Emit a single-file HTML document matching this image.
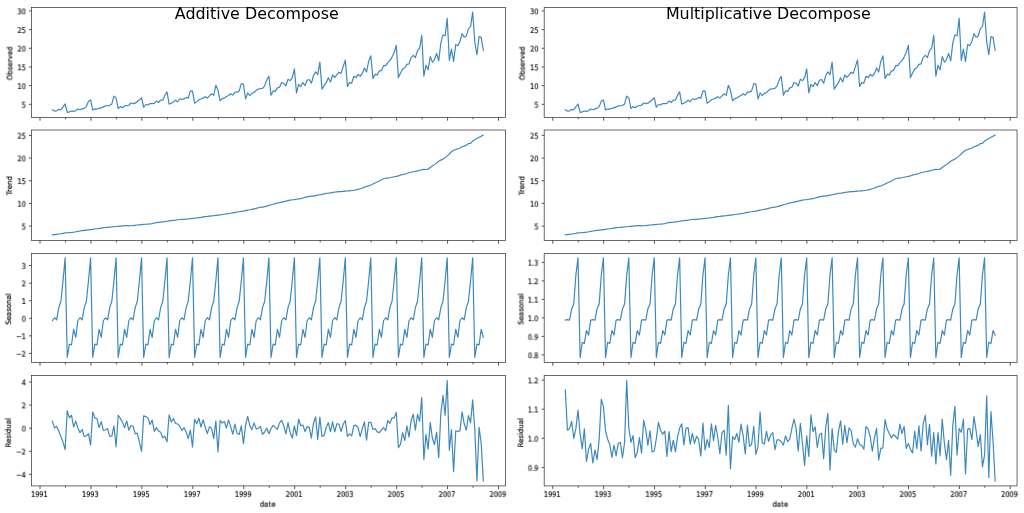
<!DOCTYPE html>
<html lang="en"><head><meta charset="utf-8"><title>Additive and Multiplicative Decompose</title>
<style>html,body{margin:0;padding:0;background:#fff;overflow:hidden}body{width:1024px;height:513px}svg text{will-change:transform}</style>
</head><body>
<svg width="1024" height="513" viewBox="0 0 1024 513" style="display:block" font-family="'DejaVu Sans', 'Liberation Sans', sans-serif">
<rect width="1024" height="513" fill="#fff"/>
<g id="panel-add">
<polyline points="52.40,109.82 54.52,111.12 56.64,110.85 58.76,109.51 60.89,109.68 63.01,106.91 65.13,103.99 67.25,112.48 69.38,111.84 71.50,111.03 73.62,111.31 75.75,110.78 77.87,109.03 79.99,109.70 82.11,108.89 84.24,108.34 86.36,106.61 88.48,101.29 90.60,99.87 92.73,110.11 94.85,108.91 96.97,109.05 99.09,108.41 101.22,107.87 103.34,106.88 105.46,105.95 107.59,105.78 109.71,105.56 111.83,103.97 113.95,96.17 116.08,97.85 118.20,108.65 120.32,106.58 122.44,107.77 124.57,106.04 126.69,105.64 128.81,105.24 130.94,103.01 133.06,103.55 135.18,103.19 137.30,101.43 139.43,99.82 141.55,97.78 143.67,107.25 145.79,104.51 147.92,104.98 150.04,103.59 152.16,103.68 154.29,103.36 156.41,101.12 158.53,102.49 160.65,100.15 162.78,100.25 164.90,95.29 167.02,91.88 169.14,104.06 171.27,103.34 173.39,102.09 175.51,100.17 177.64,101.74 179.76,98.76 181.88,99.46 184.00,98.84 186.13,97.49 188.25,98.16 190.37,90.84 192.49,91.15 194.62,103.28 196.74,101.65 198.86,99.78 200.98,99.04 203.11,98.09 205.23,96.66 207.35,97.95 209.48,95.91 211.60,93.78 213.72,95.36 215.84,85.28 217.97,90.13 220.09,100.89 222.21,98.59 224.33,98.06 226.46,96.61 228.58,95.41 230.70,93.81 232.83,95.23 234.95,92.08 237.07,92.14 239.19,90.88 241.32,83.55 243.44,84.18 245.56,99.01 247.68,92.88 249.81,95.73 251.93,93.35 254.05,92.49 256.18,90.43 258.30,89.11 260.42,88.71 262.54,88.43 264.67,85.89 266.79,79.91 268.91,76.26 271.03,95.14 273.16,90.90 275.28,91.34 277.40,87.93 279.52,87.28 281.65,82.52 283.77,83.23 285.89,85.98 288.02,79.25 290.14,80.63 292.26,77.87 294.38,68.83 296.51,92.93 298.63,84.47 300.75,86.56 302.87,82.46 305.00,85.78 307.12,80.24 309.24,79.44 311.37,83.22 313.49,75.73 315.61,71.91 317.73,74.56 319.86,62.10 321.98,89.17 324.10,85.63 326.22,82.69 328.35,77.77 330.47,82.07 332.59,75.01 334.72,77.43 336.84,74.97 338.96,72.40 341.08,73.36 343.21,66.45 345.33,60.13 347.45,86.38 349.57,82.59 351.70,83.19 353.82,76.25 355.94,77.56 358.06,74.44 360.19,76.23 362.31,73.43 364.43,67.95 366.56,71.93 368.68,61.34 370.80,55.74 372.92,78.40 375.05,74.44 377.17,74.87 379.29,70.90 381.41,70.73 383.54,65.69 385.66,65.57 387.78,62.69 389.91,60.66 392.03,57.11 394.15,52.50 396.27,45.37 398.40,77.59 400.52,72.93 402.64,68.98 404.76,67.72 406.89,64.32 409.01,63.86 411.13,57.41 413.26,55.37 415.38,57.63 417.50,50.72 419.62,48.16 421.75,35.25 423.87,76.16 425.99,65.21 428.11,69.82 430.24,56.56 432.36,62.13 434.48,59.56 436.61,53.46 438.73,60.89 440.85,42.93 442.97,34.92 445.10,35.82 447.22,18.24 449.34,60.37 451.46,49.05 453.59,61.62 455.71,44.54 457.83,45.73 459.95,41.42 462.08,33.59 464.20,37.33 466.32,36.08 468.45,28.66 470.57,26.58 472.69,12.17 474.81,42.10 476.94,54.76 479.06,36.67 481.18,37.40 483.30,50.40" fill="none" stroke="#1f77b4" stroke-opacity="0.88" stroke-width="1.18" stroke-linejoin="round" stroke-linecap="square"/>
<rect x="31.50" y="7.50" width="474.00" height="110.00" fill="none" stroke="#404040" stroke-width="0.78"/>
<path d="M31.50 104.32h-2.5 M31.50 85.64h-2.5 M31.50 66.96h-2.5 M31.50 48.28h-2.5 M31.50 29.60h-2.5 M31.50 10.92h-2.5 M40.01 117.50v3.2 M65.48 117.50v1.8 M90.95 117.50v3.2 M116.43 117.50v1.8 M141.90 117.50v3.2 M167.37 117.50v1.8 M192.84 117.50v3.2 M218.32 117.50v1.8 M243.79 117.50v3.2 M269.26 117.50v1.8 M294.73 117.50v3.2 M320.21 117.50v1.8 M345.68 117.50v3.2 M371.15 117.50v1.8 M396.62 117.50v3.2 M422.10 117.50v1.8 M447.57 117.50v3.2 M473.04 117.50v1.8 M498.51 117.50v3.2" stroke="#2a2a2a" stroke-width="0.8" fill="none"/>
<g fill="#0a0a0a" stroke="#0a0a0a" stroke-width="0.17">
<text transform="translate(25.80 107.65) rotate(0.02) scale(0.85 1)" font-size="7.75" text-anchor="end">5</text>
<text transform="translate(25.80 88.97) rotate(0.02) scale(0.85 1)" font-size="7.75" text-anchor="end">10</text>
<text transform="translate(25.80 70.29) rotate(0.02) scale(0.85 1)" font-size="7.75" text-anchor="end">15</text>
<text transform="translate(25.80 51.61) rotate(0.02) scale(0.85 1)" font-size="7.75" text-anchor="end">20</text>
<text transform="translate(25.80 32.93) rotate(0.02) scale(0.85 1)" font-size="7.75" text-anchor="end">25</text>
<text transform="translate(25.80 14.25) rotate(0.02) scale(0.85 1)" font-size="7.75" text-anchor="end">30</text>
<text transform="translate(12.30 63.35) rotate(-90) scale(0.95 1)" font-size="7.35" text-anchor="middle" stroke-width="0.18">Observed</text>
</g>
<polyline points="52.40,234.90 54.52,234.61 56.64,234.32 58.76,234.02 60.89,233.73 63.01,233.44 65.13,232.89 67.25,232.78 69.38,232.61 71.50,232.45 73.62,232.24 75.75,231.80 77.87,231.31 79.99,230.98 82.11,230.71 84.24,230.46 86.36,230.21 88.48,229.92 90.60,229.66 92.73,229.36 94.85,229.02 96.97,228.72 99.09,228.44 101.22,228.05 103.34,227.69 105.46,227.51 107.59,227.32 109.71,227.14 111.83,226.96 113.95,226.72 116.08,226.53 118.20,226.30 120.32,226.04 122.44,225.80 124.57,225.55 126.69,225.61 128.81,225.79 130.94,225.72 133.06,225.54 135.18,225.30 137.30,225.03 139.43,224.81 141.55,224.61 143.67,224.42 145.79,224.27 147.92,224.06 150.04,223.85 152.16,223.56 154.29,223.03 156.41,222.57 158.53,222.35 160.65,222.15 162.78,221.83 164.90,221.56 167.02,221.23 169.14,220.91 171.27,220.64 173.39,220.32 175.51,220.08 177.64,219.75 179.76,219.49 181.88,219.41 184.00,219.29 186.13,219.09 188.25,218.91 190.37,218.67 192.49,218.38 194.62,218.20 196.74,217.97 198.86,217.64 200.98,217.31 203.11,216.88 205.23,216.55 207.35,216.38 209.48,216.10 211.60,215.86 213.72,215.65 215.84,215.39 217.97,215.11 220.09,214.83 222.21,214.50 224.33,214.22 226.46,213.91 228.58,213.60 230.70,213.21 232.83,212.81 234.95,212.43 237.07,212.02 239.19,211.74 241.32,211.43 243.44,211.11 245.56,210.63 247.68,210.15 249.81,209.79 251.93,209.35 254.05,208.91 256.18,208.33 258.30,207.73 260.42,207.43 262.54,207.11 264.67,206.62 266.79,206.08 268.91,205.41 271.03,204.72 273.16,204.28 275.28,203.68 277.40,202.95 279.52,202.58 281.65,202.10 283.77,201.61 285.89,201.17 288.02,200.61 290.14,200.09 292.26,199.74 294.38,199.55 296.51,199.24 298.63,198.91 300.75,198.59 302.87,197.97 305.00,197.36 307.12,196.85 309.24,196.32 311.37,196.19 313.49,196.05 315.61,195.62 317.73,195.20 319.86,194.74 321.98,194.38 324.10,193.86 326.22,193.27 328.35,193.18 330.47,192.84 332.59,192.33 334.72,192.09 336.84,191.79 338.96,191.67 341.08,191.61 343.21,191.31 345.33,191.05 347.45,190.96 349.57,190.82 351.70,190.52 353.82,190.22 355.94,189.89 358.06,189.41 360.19,188.78 362.31,187.97 364.43,187.13 366.56,186.44 368.68,185.83 370.80,185.04 372.92,184.06 375.05,182.97 377.17,182.06 379.29,180.94 381.41,179.75 383.54,178.77 385.66,178.21 387.78,178.09 389.91,177.72 392.03,177.26 394.15,176.77 396.27,176.35 398.40,175.85 400.52,175.07 402.64,174.54 404.76,174.07 406.89,173.52 409.01,172.79 411.13,172.21 413.26,171.74 415.38,171.40 417.50,170.87 419.62,170.20 421.75,169.87 423.87,169.45 425.99,169.53 428.11,169.07 430.24,167.53 432.36,166.10 434.48,164.62 436.61,162.96 438.73,161.34 440.85,160.11 442.97,159.09 445.10,157.65 447.22,155.90 449.34,153.98 451.46,151.78 453.59,150.24 455.71,149.58 457.83,148.79 459.95,148.02 462.08,146.79 464.20,146.15 466.32,145.18 468.45,143.55 470.57,143.43 472.69,140.92 474.81,139.73 476.94,138.55 479.06,137.36 481.18,136.18 483.30,135.00" fill="none" stroke="#1f77b4" stroke-opacity="0.88" stroke-width="1.18" stroke-linejoin="round" stroke-linecap="square"/>
<rect x="31.50" y="130.00" width="474.00" height="110.50" fill="none" stroke="#404040" stroke-width="0.78"/>
<path d="M31.50 226.10h-2.5 M31.50 203.42h-2.5 M31.50 180.73h-2.5 M31.50 158.05h-2.5 M31.50 135.37h-2.5 M40.01 240.50v3.2 M65.48 240.50v1.8 M90.95 240.50v3.2 M116.43 240.50v1.8 M141.90 240.50v3.2 M167.37 240.50v1.8 M192.84 240.50v3.2 M218.32 240.50v1.8 M243.79 240.50v3.2 M269.26 240.50v1.8 M294.73 240.50v3.2 M320.21 240.50v1.8 M345.68 240.50v3.2 M371.15 240.50v1.8 M396.62 240.50v3.2 M422.10 240.50v1.8 M447.57 240.50v3.2 M473.04 240.50v1.8 M498.51 240.50v3.2" stroke="#2a2a2a" stroke-width="0.8" fill="none"/>
<g fill="#0a0a0a" stroke="#0a0a0a" stroke-width="0.17">
<text transform="translate(25.80 229.44) rotate(0.02) scale(0.85 1)" font-size="7.75" text-anchor="end">5</text>
<text transform="translate(25.80 206.75) rotate(0.02) scale(0.85 1)" font-size="7.75" text-anchor="end">10</text>
<text transform="translate(25.80 184.07) rotate(0.02) scale(0.85 1)" font-size="7.75" text-anchor="end">15</text>
<text transform="translate(25.80 161.38) rotate(0.02) scale(0.85 1)" font-size="7.75" text-anchor="end">20</text>
<text transform="translate(25.80 138.70) rotate(0.02) scale(0.85 1)" font-size="7.75" text-anchor="end">25</text>
<text transform="translate(11.90 185.65) rotate(-90) scale(0.95 1)" font-size="7.35" text-anchor="middle" stroke-width="0.18">Trend</text>
</g>
<polyline points="52.40,320.74 54.52,317.78 56.64,319.86 58.76,307.67 60.89,301.20 63.01,280.92 65.13,257.83 67.25,357.52 69.38,344.11 71.50,344.96 73.62,329.25 75.75,337.38 77.87,320.74 79.99,317.78 82.11,319.86 84.24,307.67 86.36,301.20 88.48,280.92 90.60,257.83 92.73,357.52 94.85,344.11 96.97,344.96 99.09,329.25 101.22,337.38 103.34,320.74 105.46,317.78 107.59,319.86 109.71,307.67 111.83,301.20 113.95,280.92 116.08,257.83 118.20,357.52 120.32,344.11 122.44,344.96 124.57,329.25 126.69,337.38 128.81,320.74 130.94,317.78 133.06,319.86 135.18,307.67 137.30,301.20 139.43,280.92 141.55,257.83 143.67,357.52 145.79,344.11 147.92,344.96 150.04,329.25 152.16,337.38 154.29,320.74 156.41,317.78 158.53,319.86 160.65,307.67 162.78,301.20 164.90,280.92 167.02,257.83 169.14,357.52 171.27,344.11 173.39,344.96 175.51,329.25 177.64,337.38 179.76,320.74 181.88,317.78 184.00,319.86 186.13,307.67 188.25,301.20 190.37,280.92 192.49,257.83 194.62,357.52 196.74,344.11 198.86,344.96 200.98,329.25 203.11,337.38 205.23,320.74 207.35,317.78 209.48,319.86 211.60,307.67 213.72,301.20 215.84,280.92 217.97,257.83 220.09,357.52 222.21,344.11 224.33,344.96 226.46,329.25 228.58,337.38 230.70,320.74 232.83,317.78 234.95,319.86 237.07,307.67 239.19,301.20 241.32,280.92 243.44,257.83 245.56,357.52 247.68,344.11 249.81,344.96 251.93,329.25 254.05,337.38 256.18,320.74 258.30,317.78 260.42,319.86 262.54,307.67 264.67,301.20 266.79,280.92 268.91,257.83 271.03,357.52 273.16,344.11 275.28,344.96 277.40,329.25 279.52,337.38 281.65,320.74 283.77,317.78 285.89,319.86 288.02,307.67 290.14,301.20 292.26,280.92 294.38,257.83 296.51,357.52 298.63,344.11 300.75,344.96 302.87,329.25 305.00,337.38 307.12,320.74 309.24,317.78 311.37,319.86 313.49,307.67 315.61,301.20 317.73,280.92 319.86,257.83 321.98,357.52 324.10,344.11 326.22,344.96 328.35,329.25 330.47,337.38 332.59,320.74 334.72,317.78 336.84,319.86 338.96,307.67 341.08,301.20 343.21,280.92 345.33,257.83 347.45,357.52 349.57,344.11 351.70,344.96 353.82,329.25 355.94,337.38 358.06,320.74 360.19,317.78 362.31,319.86 364.43,307.67 366.56,301.20 368.68,280.92 370.80,257.83 372.92,357.52 375.05,344.11 377.17,344.96 379.29,329.25 381.41,337.38 383.54,320.74 385.66,317.78 387.78,319.86 389.91,307.67 392.03,301.20 394.15,280.92 396.27,257.83 398.40,357.52 400.52,344.11 402.64,344.96 404.76,329.25 406.89,337.38 409.01,320.74 411.13,317.78 413.26,319.86 415.38,307.67 417.50,301.20 419.62,280.92 421.75,257.83 423.87,357.52 425.99,344.11 428.11,344.96 430.24,329.25 432.36,337.38 434.48,320.74 436.61,317.78 438.73,319.86 440.85,307.67 442.97,301.20 445.10,280.92 447.22,257.83 449.34,357.52 451.46,344.11 453.59,344.96 455.71,329.25 457.83,337.38 459.95,320.74 462.08,317.78 464.20,319.86 466.32,307.67 468.45,301.20 470.57,280.92 472.69,257.83 474.81,357.52 476.94,344.11 479.06,344.96 481.18,329.25 483.30,337.38" fill="none" stroke="#1f77b4" stroke-opacity="0.88" stroke-width="1.18" stroke-linejoin="round" stroke-linecap="square"/>
<rect x="31.50" y="253.50" width="474.00" height="109.00" fill="none" stroke="#404040" stroke-width="0.78"/>
<path d="M31.50 353.43h-2.5 M31.50 335.85h-2.5 M31.50 318.27h-2.5 M31.50 300.69h-2.5 M31.50 283.11h-2.5 M31.50 265.52h-2.5 M40.01 362.50v3.2 M65.48 362.50v1.8 M90.95 362.50v3.2 M116.43 362.50v1.8 M141.90 362.50v3.2 M167.37 362.50v1.8 M192.84 362.50v3.2 M218.32 362.50v1.8 M243.79 362.50v3.2 M269.26 362.50v1.8 M294.73 362.50v3.2 M320.21 362.50v1.8 M345.68 362.50v3.2 M371.15 362.50v1.8 M396.62 362.50v3.2 M422.10 362.50v1.8 M447.57 362.50v3.2 M473.04 362.50v1.8 M498.51 362.50v3.2" stroke="#2a2a2a" stroke-width="0.8" fill="none"/>
<g fill="#0a0a0a" stroke="#0a0a0a" stroke-width="0.17">
<text transform="translate(25.80 356.76) rotate(0.02) scale(0.85 1)" font-size="7.75" text-anchor="end">−2</text>
<text transform="translate(25.80 339.18) rotate(0.02) scale(0.85 1)" font-size="7.75" text-anchor="end">−1</text>
<text transform="translate(25.80 321.60) rotate(0.02) scale(0.85 1)" font-size="7.75" text-anchor="end">0</text>
<text transform="translate(25.80 304.02) rotate(0.02) scale(0.85 1)" font-size="7.75" text-anchor="end">1</text>
<text transform="translate(25.80 286.44) rotate(0.02) scale(0.85 1)" font-size="7.75" text-anchor="end">2</text>
<text transform="translate(25.80 268.86) rotate(0.02) scale(0.85 1)" font-size="7.75" text-anchor="end">3</text>
<text transform="translate(11.05 309.20) rotate(-90) scale(0.95 1)" font-size="7.35" text-anchor="middle" stroke-width="0.18">Seasonal</text>
</g>
<polyline points="52.40,421.17 54.52,427.85 56.64,426.41 58.76,431.02 60.89,436.54 63.01,442.05 65.13,449.57 67.25,410.64 69.38,417.90 71.50,415.22 73.62,426.98 75.75,421.10 77.87,427.89 79.99,432.74 82.11,429.54 84.24,436.47 86.36,436.01 88.48,433.64 90.60,445.05 92.73,411.99 94.85,417.97 96.97,418.61 99.09,427.65 101.22,421.64 103.34,430.42 105.46,429.96 107.59,428.55 109.71,436.34 111.83,436.13 113.95,425.96 116.08,446.80 118.20,415.29 120.32,418.37 122.44,422.09 124.57,427.67 126.69,420.97 128.81,430.20 130.94,425.43 133.06,426.21 135.18,433.72 137.30,433.19 139.43,442.10 141.55,451.47 143.67,415.73 145.79,416.45 147.92,417.88 150.04,424.45 152.16,420.12 154.29,431.40 156.41,427.60 158.53,431.01 160.65,432.33 162.78,437.70 164.90,436.37 167.02,441.84 169.14,414.81 171.27,422.07 173.39,418.47 175.51,423.47 177.64,423.84 179.76,426.22 181.88,430.51 184.00,427.54 186.13,431.89 188.25,438.65 190.37,429.98 192.49,446.84 194.62,419.32 196.74,423.66 198.86,418.18 200.98,427.06 203.11,419.84 205.23,427.19 207.35,433.57 209.48,426.60 211.60,428.66 213.72,438.31 215.84,421.13 217.97,451.99 220.09,420.49 222.21,423.02 224.33,421.54 226.46,428.17 228.58,419.94 230.70,426.89 232.83,434.25 234.95,424.12 237.07,433.33 239.19,434.42 241.32,425.87 243.44,443.79 245.56,425.38 247.68,416.45 249.81,425.64 251.93,429.70 254.05,422.83 256.18,428.87 258.30,428.25 260.42,426.42 262.54,434.38 264.67,432.02 266.79,428.24 268.91,433.79 271.03,428.46 273.16,425.28 275.28,427.61 277.40,429.25 279.52,422.84 281.65,420.28 283.77,425.66 285.89,433.91 288.02,422.55 290.14,432.39 292.26,438.07 294.38,425.80 296.51,435.57 298.63,419.08 300.75,425.79 302.87,425.02 305.00,431.49 307.12,426.60 309.24,427.40 311.37,438.06 313.49,423.26 315.61,416.81 317.73,439.39 319.86,417.20 321.98,436.35 324.10,435.51 326.22,427.37 328.35,422.71 330.47,431.54 332.59,421.93 334.72,431.97 336.84,423.76 338.96,424.16 341.08,431.47 343.21,424.23 345.33,420.50 347.45,436.41 349.57,433.83 351.70,435.92 353.82,425.55 355.94,425.10 358.06,427.59 360.19,436.68 362.31,428.72 364.43,421.93 366.56,440.23 368.68,422.38 370.80,422.23 372.92,429.30 375.05,428.63 377.17,431.72 379.29,432.64 381.41,429.81 383.54,427.63 385.66,430.65 387.78,420.68 389.91,423.36 392.03,417.79 394.15,418.11 396.27,412.29 398.40,447.70 400.52,444.08 402.64,432.65 404.76,440.31 406.89,425.84 409.01,437.19 411.13,420.70 413.26,414.21 415.38,430.08 417.50,414.28 419.62,421.42 421.75,397.52 423.87,459.56 425.99,434.32 428.11,449.19 430.24,422.45 432.36,437.96 434.48,444.71 436.61,432.04 438.73,457.75 440.85,413.39 442.97,395.46 445.10,415.23 447.22,380.52 449.34,450.14 451.46,429.56 453.59,471.78 455.71,430.98 457.83,431.32 459.95,430.90 462.08,411.78 464.20,423.58 466.32,430.22 468.45,415.66 470.57,422.88 472.69,399.87 474.81,429.92 476.94,480.88 479.06,427.41 481.18,443.00 483.30,480.87" fill="none" stroke="#1f77b4" stroke-opacity="0.88" stroke-width="1.18" stroke-linejoin="round" stroke-linecap="square"/>
<rect x="31.50" y="375.50" width="474.00" height="110.40" fill="none" stroke="#404040" stroke-width="0.78"/>
<path d="M31.50 474.37h-2.5 M31.50 451.28h-2.5 M31.50 428.18h-2.5 M31.50 405.08h-2.5 M31.50 381.99h-2.5 M40.01 485.90v3.2 M65.48 485.90v1.8 M90.95 485.90v3.2 M116.43 485.90v1.8 M141.90 485.90v3.2 M167.37 485.90v1.8 M192.84 485.90v3.2 M218.32 485.90v1.8 M243.79 485.90v3.2 M269.26 485.90v1.8 M294.73 485.90v3.2 M320.21 485.90v1.8 M345.68 485.90v3.2 M371.15 485.90v1.8 M396.62 485.90v3.2 M422.10 485.90v1.8 M447.57 485.90v3.2 M473.04 485.90v1.8 M498.51 485.90v3.2" stroke="#2a2a2a" stroke-width="0.8" fill="none"/>
<g fill="#0a0a0a" stroke="#0a0a0a" stroke-width="0.17">
<text transform="translate(25.80 477.71) rotate(0.02) scale(0.85 1)" font-size="7.75" text-anchor="end">−4</text>
<text transform="translate(25.80 454.61) rotate(0.02) scale(0.85 1)" font-size="7.75" text-anchor="end">−2</text>
<text transform="translate(25.80 431.51) rotate(0.02) scale(0.85 1)" font-size="7.75" text-anchor="end">0</text>
<text transform="translate(25.80 408.41) rotate(0.02) scale(0.85 1)" font-size="7.75" text-anchor="end">2</text>
<text transform="translate(25.80 385.32) rotate(0.02) scale(0.85 1)" font-size="7.75" text-anchor="end">4</text>
<text transform="translate(10.80 432.70) rotate(-90) scale(0.95 1)" font-size="7.35" text-anchor="middle" stroke-width="0.18">Residual</text>
</g>
<g fill="#0a0a0a" stroke="#0a0a0a" stroke-width="0.17">
<text transform="translate(39.41 496.90) rotate(0.02) scale(0.85 1)" font-size="7.75" text-anchor="middle">1991</text>
<text transform="translate(90.35 496.90) rotate(0.02) scale(0.85 1)" font-size="7.75" text-anchor="middle">1993</text>
<text transform="translate(141.30 496.90) rotate(0.02) scale(0.85 1)" font-size="7.75" text-anchor="middle">1995</text>
<text transform="translate(192.24 496.90) rotate(0.02) scale(0.85 1)" font-size="7.75" text-anchor="middle">1997</text>
<text transform="translate(243.19 496.90) rotate(0.02) scale(0.85 1)" font-size="7.75" text-anchor="middle">1999</text>
<text transform="translate(294.13 496.90) rotate(0.02) scale(0.85 1)" font-size="7.75" text-anchor="middle">2001</text>
<text transform="translate(345.08 496.90) rotate(0.02) scale(0.85 1)" font-size="7.75" text-anchor="middle">2003</text>
<text transform="translate(396.02 496.90) rotate(0.02) scale(0.85 1)" font-size="7.75" text-anchor="middle">2005</text>
<text transform="translate(446.97 496.90) rotate(0.02) scale(0.85 1)" font-size="7.75" text-anchor="middle">2007</text>
<text transform="translate(497.91 496.90) rotate(0.02) scale(0.85 1)" font-size="7.75" text-anchor="middle">2009</text>
<text transform="translate(267.70 506.70) rotate(0.02) scale(0.95 1)" font-size="7.35" text-anchor="middle">date</text>
</g>
<text transform="translate(256.8 19.3) scale(1.04 1)" font-size="15.3" fill="#000" text-anchor="middle">Additive Decompose</text>
</g>
<g id="panel-mul">
<polyline points="565.29,109.82 567.41,111.12 569.53,110.85 571.65,109.51 573.76,109.68 575.88,106.91 578.00,103.99 580.12,112.48 582.23,111.84 584.35,111.03 586.47,111.31 588.59,110.78 590.70,109.03 592.82,109.70 594.94,108.89 597.06,108.34 599.17,106.61 601.29,101.29 603.41,99.87 605.53,110.11 607.64,108.91 609.76,109.05 611.88,108.41 614.00,107.87 616.11,106.88 618.23,105.95 620.35,105.78 622.47,105.56 624.58,103.97 626.70,96.17 628.82,97.85 630.94,108.65 633.05,106.58 635.17,107.77 637.29,106.04 639.41,105.64 641.53,105.24 643.64,103.01 645.76,103.55 647.88,103.19 650.00,101.43 652.11,99.82 654.23,97.78 656.35,107.25 658.47,104.51 660.58,104.98 662.70,103.59 664.82,103.68 666.94,103.36 669.05,101.12 671.17,102.49 673.29,100.15 675.41,100.25 677.52,95.29 679.64,91.88 681.76,104.06 683.88,103.34 685.99,102.09 688.11,100.17 690.23,101.74 692.35,98.76 694.46,99.46 696.58,98.84 698.70,97.49 700.82,98.16 702.93,90.84 705.05,91.15 707.17,103.28 709.29,101.65 711.40,99.78 713.52,99.04 715.64,98.09 717.76,96.66 719.87,97.95 721.99,95.91 724.11,93.78 726.23,95.36 728.34,85.28 730.46,90.13 732.58,100.89 734.70,98.59 736.82,98.06 738.93,96.61 741.05,95.41 743.17,93.81 745.29,95.23 747.40,92.08 749.52,92.14 751.64,90.88 753.76,83.55 755.87,84.18 757.99,99.01 760.11,92.88 762.23,95.73 764.34,93.35 766.46,92.49 768.58,90.43 770.70,89.11 772.81,88.71 774.93,88.43 777.05,85.89 779.17,79.91 781.28,76.26 783.40,95.14 785.52,90.90 787.64,91.34 789.75,87.93 791.87,87.28 793.99,82.52 796.11,83.23 798.22,85.98 800.34,79.25 802.46,80.63 804.58,77.87 806.69,68.83 808.81,92.93 810.93,84.47 813.05,86.56 815.16,82.46 817.28,85.78 819.40,80.24 821.52,79.44 823.63,83.22 825.75,75.73 827.87,71.91 829.99,74.56 832.11,62.10 834.22,89.17 836.34,85.63 838.46,82.69 840.58,77.77 842.69,82.07 844.81,75.01 846.93,77.43 849.05,74.97 851.16,72.40 853.28,73.36 855.40,66.45 857.52,60.13 859.63,86.38 861.75,82.59 863.87,83.19 865.99,76.25 868.10,77.56 870.22,74.44 872.34,76.23 874.46,73.43 876.57,67.95 878.69,71.93 880.81,61.34 882.93,55.74 885.04,78.40 887.16,74.44 889.28,74.87 891.40,70.90 893.51,70.73 895.63,65.69 897.75,65.57 899.87,62.69 901.98,60.66 904.10,57.11 906.22,52.50 908.34,45.37 910.45,77.59 912.57,72.93 914.69,68.98 916.81,67.72 918.92,64.32 921.04,63.86 923.16,57.41 925.28,55.37 927.40,57.63 929.51,50.72 931.63,48.16 933.75,35.25 935.87,76.16 937.98,65.21 940.10,69.82 942.22,56.56 944.34,62.13 946.45,59.56 948.57,53.46 950.69,60.89 952.81,42.93 954.92,34.92 957.04,35.82 959.16,18.24 961.28,60.37 963.39,49.05 965.51,61.62 967.63,44.54 969.75,45.73 971.86,41.42 973.98,33.59 976.10,37.33 978.22,36.08 980.33,28.66 982.45,26.58 984.57,12.17 986.69,42.10 988.80,54.76 990.92,36.67 993.04,37.40 995.16,50.40" fill="none" stroke="#1f77b4" stroke-opacity="0.88" stroke-width="1.18" stroke-linejoin="round" stroke-linecap="square"/>
<rect x="544.20" y="7.50" width="472.85" height="110.00" fill="none" stroke="#404040" stroke-width="0.78"/>
<path d="M544.20 104.32h-2.5 M544.20 85.64h-2.5 M544.20 66.96h-2.5 M544.20 48.28h-2.5 M544.20 29.60h-2.5 M544.20 10.92h-2.5 M552.79 117.50v3.2 M578.20 117.50v1.8 M603.61 117.50v3.2 M629.02 117.50v1.8 M654.43 117.50v3.2 M679.84 117.50v1.8 M705.25 117.50v3.2 M730.66 117.50v1.8 M756.07 117.50v3.2 M781.48 117.50v1.8 M806.89 117.50v3.2 M832.31 117.50v1.8 M857.72 117.50v3.2 M883.13 117.50v1.8 M908.54 117.50v3.2 M933.95 117.50v1.8 M959.36 117.50v3.2 M984.77 117.50v1.8 M1010.18 117.50v3.2" stroke="#2a2a2a" stroke-width="0.8" fill="none"/>
<g fill="#0a0a0a" stroke="#0a0a0a" stroke-width="0.17">
<text transform="translate(538.50 107.65) rotate(0.02) scale(0.85 1)" font-size="7.75" text-anchor="end">5</text>
<text transform="translate(538.50 88.97) rotate(0.02) scale(0.85 1)" font-size="7.75" text-anchor="end">10</text>
<text transform="translate(538.50 70.29) rotate(0.02) scale(0.85 1)" font-size="7.75" text-anchor="end">15</text>
<text transform="translate(538.50 51.61) rotate(0.02) scale(0.85 1)" font-size="7.75" text-anchor="end">20</text>
<text transform="translate(538.50 32.93) rotate(0.02) scale(0.85 1)" font-size="7.75" text-anchor="end">25</text>
<text transform="translate(538.50 14.25) rotate(0.02) scale(0.85 1)" font-size="7.75" text-anchor="end">30</text>
<text transform="translate(524.70 63.35) rotate(-90) scale(0.95 1)" font-size="7.35" text-anchor="middle" stroke-width="0.18">Observed</text>
</g>
<polyline points="565.29,234.90 567.41,234.61 569.53,234.32 571.65,234.02 573.76,233.73 575.88,233.44 578.00,232.89 580.12,232.78 582.23,232.61 584.35,232.45 586.47,232.24 588.59,231.80 590.70,231.31 592.82,230.98 594.94,230.71 597.06,230.46 599.17,230.21 601.29,229.92 603.41,229.66 605.53,229.36 607.64,229.02 609.76,228.72 611.88,228.44 614.00,228.05 616.11,227.69 618.23,227.51 620.35,227.32 622.47,227.14 624.58,226.96 626.70,226.72 628.82,226.53 630.94,226.30 633.05,226.04 635.17,225.80 637.29,225.55 639.41,225.61 641.53,225.79 643.64,225.72 645.76,225.54 647.88,225.30 650.00,225.03 652.11,224.81 654.23,224.61 656.35,224.42 658.47,224.27 660.58,224.06 662.70,223.85 664.82,223.56 666.94,223.03 669.05,222.57 671.17,222.35 673.29,222.15 675.41,221.83 677.52,221.56 679.64,221.23 681.76,220.91 683.88,220.64 685.99,220.32 688.11,220.08 690.23,219.75 692.35,219.49 694.46,219.41 696.58,219.29 698.70,219.09 700.82,218.91 702.93,218.67 705.05,218.38 707.17,218.20 709.29,217.97 711.40,217.64 713.52,217.31 715.64,216.88 717.76,216.55 719.87,216.38 721.99,216.10 724.11,215.86 726.23,215.65 728.34,215.39 730.46,215.11 732.58,214.83 734.70,214.50 736.82,214.22 738.93,213.91 741.05,213.60 743.17,213.21 745.29,212.81 747.40,212.43 749.52,212.02 751.64,211.74 753.76,211.43 755.87,211.11 757.99,210.63 760.11,210.15 762.23,209.79 764.34,209.35 766.46,208.91 768.58,208.33 770.70,207.73 772.81,207.43 774.93,207.11 777.05,206.62 779.17,206.08 781.28,205.41 783.40,204.72 785.52,204.28 787.64,203.68 789.75,202.95 791.87,202.58 793.99,202.10 796.11,201.61 798.22,201.17 800.34,200.61 802.46,200.09 804.58,199.74 806.69,199.55 808.81,199.24 810.93,198.91 813.05,198.59 815.16,197.97 817.28,197.36 819.40,196.85 821.52,196.32 823.63,196.19 825.75,196.05 827.87,195.62 829.99,195.20 832.11,194.74 834.22,194.38 836.34,193.86 838.46,193.27 840.58,193.18 842.69,192.84 844.81,192.33 846.93,192.09 849.05,191.79 851.16,191.67 853.28,191.61 855.40,191.31 857.52,191.05 859.63,190.96 861.75,190.82 863.87,190.52 865.99,190.22 868.10,189.89 870.22,189.41 872.34,188.78 874.46,187.97 876.57,187.13 878.69,186.44 880.81,185.83 882.93,185.04 885.04,184.06 887.16,182.97 889.28,182.06 891.40,180.94 893.51,179.75 895.63,178.77 897.75,178.21 899.87,178.09 901.98,177.72 904.10,177.26 906.22,176.77 908.34,176.35 910.45,175.85 912.57,175.07 914.69,174.54 916.81,174.07 918.92,173.52 921.04,172.79 923.16,172.21 925.28,171.74 927.40,171.40 929.51,170.87 931.63,170.20 933.75,169.87 935.87,169.45 937.98,169.53 940.10,169.07 942.22,167.53 944.34,166.10 946.45,164.62 948.57,162.96 950.69,161.34 952.81,160.11 954.92,159.09 957.04,157.65 959.16,155.90 961.28,153.98 963.39,151.78 965.51,150.24 967.63,149.58 969.75,148.79 971.86,148.02 973.98,146.79 976.10,146.15 978.22,145.18 980.33,143.55 982.45,143.43 984.57,140.92 986.69,139.73 988.80,138.55 990.92,137.36 993.04,136.18 995.16,135.00" fill="none" stroke="#1f77b4" stroke-opacity="0.88" stroke-width="1.18" stroke-linejoin="round" stroke-linecap="square"/>
<rect x="544.20" y="130.00" width="472.85" height="110.50" fill="none" stroke="#404040" stroke-width="0.78"/>
<path d="M544.20 226.10h-2.5 M544.20 203.42h-2.5 M544.20 180.73h-2.5 M544.20 158.05h-2.5 M544.20 135.37h-2.5 M552.79 240.50v3.2 M578.20 240.50v1.8 M603.61 240.50v3.2 M629.02 240.50v1.8 M654.43 240.50v3.2 M679.84 240.50v1.8 M705.25 240.50v3.2 M730.66 240.50v1.8 M756.07 240.50v3.2 M781.48 240.50v1.8 M806.89 240.50v3.2 M832.31 240.50v1.8 M857.72 240.50v3.2 M883.13 240.50v1.8 M908.54 240.50v3.2 M933.95 240.50v1.8 M959.36 240.50v3.2 M984.77 240.50v1.8 M1010.18 240.50v3.2" stroke="#2a2a2a" stroke-width="0.8" fill="none"/>
<g fill="#0a0a0a" stroke="#0a0a0a" stroke-width="0.17">
<text transform="translate(538.50 229.44) rotate(0.02) scale(0.85 1)" font-size="7.75" text-anchor="end">5</text>
<text transform="translate(538.50 206.75) rotate(0.02) scale(0.85 1)" font-size="7.75" text-anchor="end">10</text>
<text transform="translate(538.50 184.07) rotate(0.02) scale(0.85 1)" font-size="7.75" text-anchor="end">15</text>
<text transform="translate(538.50 161.38) rotate(0.02) scale(0.85 1)" font-size="7.75" text-anchor="end">20</text>
<text transform="translate(538.50 138.70) rotate(0.02) scale(0.85 1)" font-size="7.75" text-anchor="end">25</text>
<text transform="translate(524.30 185.65) rotate(-90) scale(0.95 1)" font-size="7.35" text-anchor="middle" stroke-width="0.18">Trend</text>
</g>
<polyline points="565.29,320.15 567.41,319.66 569.53,320.22 571.65,308.95 573.76,304.10 575.88,275.00 578.00,257.83 580.12,357.52 582.23,342.29 584.35,343.46 586.47,330.56 588.59,335.03 590.70,320.15 592.82,319.66 594.94,320.22 597.06,308.95 599.17,304.10 601.29,275.00 603.41,257.83 605.53,357.52 607.64,342.29 609.76,343.46 611.88,330.56 614.00,335.03 616.11,320.15 618.23,319.66 620.35,320.22 622.47,308.95 624.58,304.10 626.70,275.00 628.82,257.83 630.94,357.52 633.05,342.29 635.17,343.46 637.29,330.56 639.41,335.03 641.53,320.15 643.64,319.66 645.76,320.22 647.88,308.95 650.00,304.10 652.11,275.00 654.23,257.83 656.35,357.52 658.47,342.29 660.58,343.46 662.70,330.56 664.82,335.03 666.94,320.15 669.05,319.66 671.17,320.22 673.29,308.95 675.41,304.10 677.52,275.00 679.64,257.83 681.76,357.52 683.88,342.29 685.99,343.46 688.11,330.56 690.23,335.03 692.35,320.15 694.46,319.66 696.58,320.22 698.70,308.95 700.82,304.10 702.93,275.00 705.05,257.83 707.17,357.52 709.29,342.29 711.40,343.46 713.52,330.56 715.64,335.03 717.76,320.15 719.87,319.66 721.99,320.22 724.11,308.95 726.23,304.10 728.34,275.00 730.46,257.83 732.58,357.52 734.70,342.29 736.82,343.46 738.93,330.56 741.05,335.03 743.17,320.15 745.29,319.66 747.40,320.22 749.52,308.95 751.64,304.10 753.76,275.00 755.87,257.83 757.99,357.52 760.11,342.29 762.23,343.46 764.34,330.56 766.46,335.03 768.58,320.15 770.70,319.66 772.81,320.22 774.93,308.95 777.05,304.10 779.17,275.00 781.28,257.83 783.40,357.52 785.52,342.29 787.64,343.46 789.75,330.56 791.87,335.03 793.99,320.15 796.11,319.66 798.22,320.22 800.34,308.95 802.46,304.10 804.58,275.00 806.69,257.83 808.81,357.52 810.93,342.29 813.05,343.46 815.16,330.56 817.28,335.03 819.40,320.15 821.52,319.66 823.63,320.22 825.75,308.95 827.87,304.10 829.99,275.00 832.11,257.83 834.22,357.52 836.34,342.29 838.46,343.46 840.58,330.56 842.69,335.03 844.81,320.15 846.93,319.66 849.05,320.22 851.16,308.95 853.28,304.10 855.40,275.00 857.52,257.83 859.63,357.52 861.75,342.29 863.87,343.46 865.99,330.56 868.10,335.03 870.22,320.15 872.34,319.66 874.46,320.22 876.57,308.95 878.69,304.10 880.81,275.00 882.93,257.83 885.04,357.52 887.16,342.29 889.28,343.46 891.40,330.56 893.51,335.03 895.63,320.15 897.75,319.66 899.87,320.22 901.98,308.95 904.10,304.10 906.22,275.00 908.34,257.83 910.45,357.52 912.57,342.29 914.69,343.46 916.81,330.56 918.92,335.03 921.04,320.15 923.16,319.66 925.28,320.22 927.40,308.95 929.51,304.10 931.63,275.00 933.75,257.83 935.87,357.52 937.98,342.29 940.10,343.46 942.22,330.56 944.34,335.03 946.45,320.15 948.57,319.66 950.69,320.22 952.81,308.95 954.92,304.10 957.04,275.00 959.16,257.83 961.28,357.52 963.39,342.29 965.51,343.46 967.63,330.56 969.75,335.03 971.86,320.15 973.98,319.66 976.10,320.22 978.22,308.95 980.33,304.10 982.45,275.00 984.57,257.83 986.69,357.52 988.80,342.29 990.92,343.46 993.04,330.56 995.16,335.03" fill="none" stroke="#1f77b4" stroke-opacity="0.88" stroke-width="1.18" stroke-linejoin="round" stroke-linecap="square"/>
<rect x="544.20" y="253.50" width="472.85" height="109.00" fill="none" stroke="#404040" stroke-width="0.78"/>
<path d="M544.20 354.92h-2.5 M544.20 336.41h-2.5 M544.20 317.90h-2.5 M544.20 299.39h-2.5 M544.20 280.87h-2.5 M544.20 262.36h-2.5 M552.79 362.50v3.2 M578.20 362.50v1.8 M603.61 362.50v3.2 M629.02 362.50v1.8 M654.43 362.50v3.2 M679.84 362.50v1.8 M705.25 362.50v3.2 M730.66 362.50v1.8 M756.07 362.50v3.2 M781.48 362.50v1.8 M806.89 362.50v3.2 M832.31 362.50v1.8 M857.72 362.50v3.2 M883.13 362.50v1.8 M908.54 362.50v3.2 M933.95 362.50v1.8 M959.36 362.50v3.2 M984.77 362.50v1.8 M1010.18 362.50v3.2" stroke="#2a2a2a" stroke-width="0.8" fill="none"/>
<g fill="#0a0a0a" stroke="#0a0a0a" stroke-width="0.17">
<text transform="translate(538.50 358.25) rotate(0.02) scale(0.85 1)" font-size="7.75" text-anchor="end">0.8</text>
<text transform="translate(538.50 339.74) rotate(0.02) scale(0.85 1)" font-size="7.75" text-anchor="end">0.9</text>
<text transform="translate(538.50 321.23) rotate(0.02) scale(0.85 1)" font-size="7.75" text-anchor="end">1.0</text>
<text transform="translate(538.50 302.72) rotate(0.02) scale(0.85 1)" font-size="7.75" text-anchor="end">1.1</text>
<text transform="translate(538.50 284.21) rotate(0.02) scale(0.85 1)" font-size="7.75" text-anchor="end">1.2</text>
<text transform="translate(538.50 265.69) rotate(0.02) scale(0.85 1)" font-size="7.75" text-anchor="end">1.3</text>
<text transform="translate(523.45 309.20) rotate(-90) scale(0.95 1)" font-size="7.35" text-anchor="middle" stroke-width="0.18">Seasonal</text>
</g>
<polyline points="565.29,389.83 567.41,430.25 569.53,428.83 571.65,421.30 573.76,438.35 575.88,428.63 578.00,410.21 580.12,433.95 582.23,448.66 584.35,428.79 586.47,461.51 588.59,449.24 590.70,443.57 592.82,463.00 594.94,450.00 597.06,459.67 599.17,439.18 601.29,399.27 603.41,406.61 605.53,430.92 607.64,439.22 609.76,444.31 611.88,457.28 614.00,445.19 616.11,455.95 618.23,443.47 620.35,442.26 622.47,457.76 624.58,442.64 626.70,380.52 628.82,427.87 630.94,442.44 633.05,435.66 635.17,457.73 637.29,452.36 639.41,437.70 641.53,453.12 643.64,420.19 645.76,430.00 647.88,445.12 650.00,430.73 652.11,452.01 654.23,451.03 656.35,438.68 658.47,422.34 660.58,430.50 662.70,434.11 664.82,431.09 666.94,456.52 669.05,431.59 671.17,451.61 673.29,440.23 675.41,451.84 677.52,437.38 679.64,428.06 681.76,423.84 683.88,445.02 685.99,428.13 688.11,427.67 690.23,444.27 692.35,433.43 694.46,443.43 696.58,436.21 698.70,439.79 700.82,455.88 702.93,423.01 705.05,449.90 707.17,439.53 709.29,447.37 711.40,423.75 713.52,440.69 715.64,425.26 717.76,437.02 719.87,453.58 721.99,432.74 724.11,430.26 726.23,455.04 728.34,405.30 730.46,468.91 732.58,436.59 734.70,439.56 736.82,433.50 738.93,442.29 741.05,424.07 743.17,435.82 745.29,453.97 747.40,425.04 749.52,446.38 751.64,444.25 753.76,426.40 755.87,454.43 757.99,446.67 760.11,412.05 762.23,442.69 764.34,444.13 766.46,431.40 768.58,441.38 770.70,434.84 772.81,432.62 774.93,449.75 777.05,439.93 779.17,439.89 781.28,441.79 783.40,445.10 785.52,435.81 787.64,441.57 789.75,439.13 791.87,428.31 793.99,419.18 796.11,428.59 798.22,451.10 800.34,423.24 802.46,443.22 804.58,465.38 806.69,435.85 808.81,456.46 810.93,414.94 813.05,431.70 815.16,426.74 817.28,447.50 819.40,434.84 821.52,433.12 823.63,458.69 825.75,427.17 827.87,413.31 829.99,470.02 832.11,428.68 834.22,449.84 836.34,452.44 838.46,431.64 840.58,420.80 842.69,444.46 844.81,425.26 846.93,442.60 849.05,427.77 851.16,430.77 853.28,443.77 855.40,447.09 857.52,438.78 859.63,444.65 861.75,445.57 863.87,449.24 865.99,426.55 868.10,428.90 870.22,436.76 872.34,451.27 874.46,437.65 876.57,428.37 878.69,459.94 880.81,448.37 882.93,447.81 885.04,419.54 887.16,429.02 889.28,433.58 891.40,438.08 893.51,434.53 895.63,436.52 897.75,439.04 899.87,424.06 901.98,433.66 904.10,426.38 906.22,448.49 908.34,443.37 910.45,449.41 912.57,452.89 914.69,431.01 916.81,448.73 918.92,425.73 921.04,450.95 923.16,423.78 925.28,415.21 927.40,444.61 929.51,424.22 931.63,456.13 933.75,432.66 935.87,463.89 937.98,432.58 940.10,455.83 942.22,419.20 944.34,442.66 946.45,459.71 948.57,440.28 950.69,475.18 952.81,424.98 954.92,406.40 957.04,454.91 959.16,428.44 961.28,432.32 963.39,419.08 965.51,473.99 967.63,429.34 969.75,428.41 971.86,439.73 973.98,416.61 976.10,430.63 978.22,446.56 980.33,434.52 982.45,466.80 984.57,455.20 986.69,395.78 988.80,477.40 990.92,411.65 993.04,440.98 995.16,480.88" fill="none" stroke="#1f77b4" stroke-opacity="0.88" stroke-width="1.18" stroke-linejoin="round" stroke-linecap="square"/>
<rect x="544.20" y="375.50" width="472.85" height="110.40" fill="none" stroke="#404040" stroke-width="0.78"/>
<path d="M544.20 467.43h-2.5 M544.20 438.33h-2.5 M544.20 409.22h-2.5 M544.20 380.12h-2.5 M552.79 485.90v3.2 M578.20 485.90v1.8 M603.61 485.90v3.2 M629.02 485.90v1.8 M654.43 485.90v3.2 M679.84 485.90v1.8 M705.25 485.90v3.2 M730.66 485.90v1.8 M756.07 485.90v3.2 M781.48 485.90v1.8 M806.89 485.90v3.2 M832.31 485.90v1.8 M857.72 485.90v3.2 M883.13 485.90v1.8 M908.54 485.90v3.2 M933.95 485.90v1.8 M959.36 485.90v3.2 M984.77 485.90v1.8 M1010.18 485.90v3.2" stroke="#2a2a2a" stroke-width="0.8" fill="none"/>
<g fill="#0a0a0a" stroke="#0a0a0a" stroke-width="0.17">
<text transform="translate(538.50 470.76) rotate(0.02) scale(0.85 1)" font-size="7.75" text-anchor="end">0.9</text>
<text transform="translate(538.50 441.66) rotate(0.02) scale(0.85 1)" font-size="7.75" text-anchor="end">1.0</text>
<text transform="translate(538.50 412.55) rotate(0.02) scale(0.85 1)" font-size="7.75" text-anchor="end">1.1</text>
<text transform="translate(538.50 383.45) rotate(0.02) scale(0.85 1)" font-size="7.75" text-anchor="end">1.2</text>
<text transform="translate(523.20 432.70) rotate(-90) scale(0.95 1)" font-size="7.35" text-anchor="middle" stroke-width="0.18">Residual</text>
</g>
<g fill="#0a0a0a" stroke="#0a0a0a" stroke-width="0.17">
<text transform="translate(552.19 496.90) rotate(0.02) scale(0.85 1)" font-size="7.75" text-anchor="middle">1991</text>
<text transform="translate(603.01 496.90) rotate(0.02) scale(0.85 1)" font-size="7.75" text-anchor="middle">1993</text>
<text transform="translate(653.83 496.90) rotate(0.02) scale(0.85 1)" font-size="7.75" text-anchor="middle">1995</text>
<text transform="translate(704.65 496.90) rotate(0.02) scale(0.85 1)" font-size="7.75" text-anchor="middle">1997</text>
<text transform="translate(755.47 496.90) rotate(0.02) scale(0.85 1)" font-size="7.75" text-anchor="middle">1999</text>
<text transform="translate(806.29 496.90) rotate(0.02) scale(0.85 1)" font-size="7.75" text-anchor="middle">2001</text>
<text transform="translate(857.12 496.90) rotate(0.02) scale(0.85 1)" font-size="7.75" text-anchor="middle">2003</text>
<text transform="translate(907.94 496.90) rotate(0.02) scale(0.85 1)" font-size="7.75" text-anchor="middle">2005</text>
<text transform="translate(958.76 496.90) rotate(0.02) scale(0.85 1)" font-size="7.75" text-anchor="middle">2007</text>
<text transform="translate(1009.58 496.90) rotate(0.02) scale(0.85 1)" font-size="7.75" text-anchor="middle">2009</text>
<text transform="translate(780.23 506.70) rotate(0.02) scale(0.95 1)" font-size="7.35" text-anchor="middle">date</text>
</g>
<text transform="translate(768.4 19.3) scale(1.04 1)" font-size="15.3" fill="#000" text-anchor="middle">Multiplicative Decompose</text>
</g>
</svg>
</body></html>
